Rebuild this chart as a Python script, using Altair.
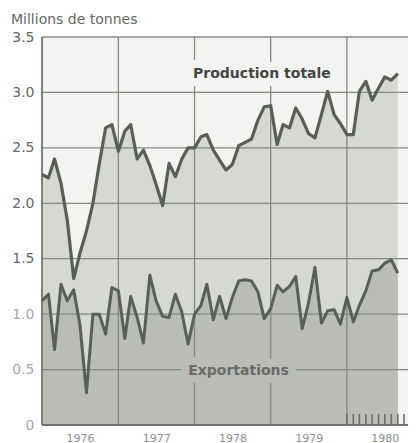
import altair as alt
import pandas as pd

# ---- data ----
start_month = "1976-01-01"
production = [
    2.26, 2.23, 2.40, 2.18, 1.85, 1.32, 1.55, 1.75, 2.00, 2.35, 2.68, 2.71,   # 1976
    2.47, 2.65, 2.71, 2.40, 2.48, 2.34, 2.17, 1.98, 2.36, 2.24, 2.40, 2.50,   # 1977
    2.50, 2.60, 2.62, 2.48, 2.39, 2.30, 2.35, 2.52, 2.55, 2.58, 2.75, 2.87,   # 1978
    2.88, 2.53, 2.71, 2.68, 2.86, 2.76, 2.63, 2.59, 2.80, 3.01, 2.80, 2.72,   # 1979
    2.62, 2.62, 3.01, 3.10, 2.93, 3.04, 3.14, 3.11, 3.17,                     # 1980
]
exportations = [
    1.12, 1.18, 0.68, 1.27, 1.12, 1.22, 0.90, 0.29, 1.00, 1.00, 0.82, 1.24,   # 1976
    1.21, 0.78, 1.16, 0.97, 0.74, 1.35, 1.12, 0.98, 0.97, 1.18, 1.02, 0.73,   # 1977
    1.00, 1.08, 1.27, 0.95, 1.16, 0.96, 1.15, 1.30, 1.31, 1.30, 1.20, 0.96,   # 1978
    1.05, 1.26, 1.20, 1.25, 1.34, 0.87, 1.10, 1.42, 0.92, 1.03, 1.04, 0.91,   # 1979
    1.15, 0.93, 1.08, 1.21, 1.39, 1.40, 1.46, 1.49, 1.37,                     # 1980
]
years = [1976, 1977, 1978, 1979, 1980]
y_ticks = [0, 0.5, 1.0, 1.5, 2.0, 2.5, 3.0, 3.5]
month_ticks_1980 = list(range(1, 13))
series_labels = ["Production totale", "Exportations"]
label_dates = ["1978-11-20", "1978-07-31"]
label_values = [3.17, 0.485]

months = pd.date_range(start_month, periods=len(production), freq="MS")
df = pd.DataFrame({"date": months, "production": production, "exportations": exportations})

year_df = pd.DataFrame({"date": [pd.Timestamp(year=y, month=1, day=1) for y in years]})
ytick_df = pd.DataFrame({"v": y_ticks})
mt_df = pd.DataFrame({"date": [pd.Timestamp(year=1980, month=m, day=1) for m in month_ticks_1980],
                      "y0": 0.0, "y1": 0.1})
lab_df = pd.DataFrame({"date": pd.to_datetime(label_dates), "v": label_values, "t": series_labels})

# ---- styling ----
FONT = "DejaVu Sans"
BG = "#f3f4f1"
PROD_FILL = "#d6d9d1"
EXP_FILL = "#babdb6"
LINE = "#595e57"
GRID = "#858983"
W, H = 366, 388

x_scale = alt.Scale(domain=[alt.DateTime(year=1976, month=1, date=1),
                            alt.DateTime(year=1980, month=10, date=20)])
y_scale = alt.Scale(domain=[0, 3.5], nice=False)

x_axis = alt.Axis(
    title=None, values=[alt.DateTime(year=y, month=1, date=1) for y in years],
    format="%Y", labelOffset=38, labelFlush=False, labelOverlap=False,
    grid=False, ticks=False, domain=False, labelPadding=7,
    labelFont=FONT, labelFontSize=11, labelColor="#8e8e8e",
)
y_axis = alt.Axis(
    title=None, values=y_ticks,
    labelExpr="datum.value == 0 ? '0' : format(datum.value, '.1f')",
    grid=False, ticks=False, domain=False, labelPadding=8,
    labelFont=FONT, labelFontSize=14,
    labelColor={"condition": {"test": "datum.value <= 1", "value": "#a8a8a8"}, "value": "#666666"},
    minExtent=34, maxExtent=34,
)

bg = alt.Chart(ytick_df).transform_filter("datum.v == 0").mark_rect(color=BG).encode(
    x=alt.value(0), x2=alt.value(W), y=alt.value(0), y2=alt.value(H))

prod_area = alt.Chart(df).mark_area(color=PROD_FILL).encode(
    x=alt.X("date:T", scale=x_scale, axis=x_axis),
    y=alt.Y("production:Q", scale=y_scale, axis=y_axis))
exp_area = alt.Chart(df).mark_area(color=EXP_FILL).encode(
    x="date:T", y="exportations:Q")

hgrid = alt.Chart(ytick_df).transform_filter("datum.v > 0").mark_rule(
    color=GRID, strokeWidth=1.3).encode(y="v:Q")
vgrid = alt.Chart(year_df).transform_filter("year(datum.date) > 1976").mark_rule(
    color=GRID, strokeWidth=1.3).encode(x="date:T")
bottom_line = alt.Chart(ytick_df).transform_filter("datum.v == 0").mark_rule(
    color="#6f736d", strokeWidth=2).encode(y="v:Q")
left_line = alt.Chart(year_df).transform_filter("year(datum.date) == 1976").mark_rule(
    color="#7d817b", strokeWidth=2).encode(x="date:T")

prod_line = alt.Chart(df).mark_line(color=LINE, strokeWidth=3.2, strokeJoin="round").encode(
    x="date:T", y="production:Q")
exp_line = alt.Chart(df).mark_line(color=LINE, strokeWidth=3.0, strokeJoin="round").encode(
    x="date:T", y="exportations:Q")

halo = alt.Chart(lab_df).mark_text(
    font=FONT, fontSize=14, fontWeight="bold", strokeWidth=16, strokeJoin="round",
    baseline="middle", align="center").encode(
    x="date:T", y="v:Q", text="t:N",
    color=alt.Color("t:N", scale=alt.Scale(domain=series_labels, range=[BG, EXP_FILL]), legend=None),
    stroke=alt.Stroke("t:N", scale=alt.Scale(domain=series_labels, range=[BG, EXP_FILL]), legend=None),
)
labels = alt.Chart(lab_df).mark_text(
    font=FONT, fontSize=14, fontWeight="bold", baseline="middle", align="center").encode(
    x="date:T", y="v:Q", text="t:N",
    color=alt.Color("t:N", scale=alt.Scale(domain=series_labels, range=["#454545", "#6a6a6a"]), legend=None),
)

month_ticks = alt.Chart(mt_df).mark_rule(color="#6a6e68", strokeWidth=1.6, clip=True).encode(
    x="date:T", y="y0:Q", y2="y1:Q")

chart = alt.layer(
    bg, prod_area, exp_area, hgrid, vgrid, bottom_line, left_line,
    prod_line, exp_line, halo, labels, month_ticks,
).resolve_scale(color="independent", stroke="independent").properties(
    width=W, height=H,
    autosize=alt.AutoSizeParams(type="none"),
    padding={"left": 34, "top": 29, "right": 0, "bottom": 18},
    title=alt.TitleParams("Millions de tonnes", anchor="start", font=FONT, fontSize=14,
                          fontWeight="normal", color="#666666", offset=3, dx=3),
).configure_view(fill=BG, stroke=None).configure(background="white")

chart.save("out.html", embed_options={"renderer": "svg", "actions": False})
